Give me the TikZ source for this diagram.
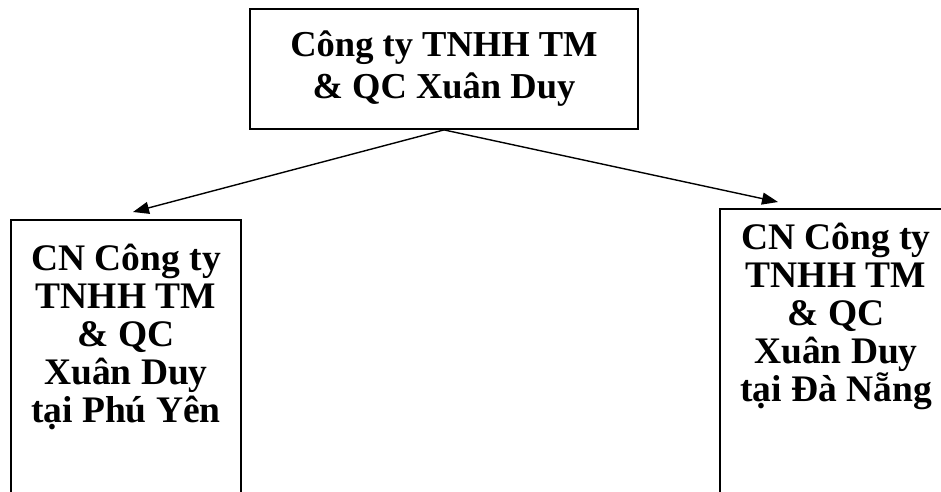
\documentclass[tikz,border=0pt]{standalone}
\usepackage{fontspec}
\setmainfont{Liberation Serif}
\usetikzlibrary{arrows.meta,positioning}
\tikzset{
  headbox/.style={draw=black,line width=1.8pt,minimum width=388pt,minimum height=120pt,align=center,inner sep=0pt,font=\fontsize{36.5}{42}\selectfont\bfseries},
  branchbox/.style={draw=black,line width=1.8pt,minimum width=230pt,align=center,inner xsep=0pt,inner ysep=24pt,text depth=150pt,anchor=north,font=\fontsize{37.5}{38}\selectfont\bfseries},
  arrow/.style={-{Triangle[length=16pt,width=12pt]},line width=1.4pt,draw=black}
}
\begin{document}
\begin{tikzpicture}[x=1pt,y=-1pt]
  \useasboundingbox (0,0) rectangle (941,491);
  \node[headbox] (head) at (444,69) {Công ty TNHH TM\\ \& QC Xuân Duy};
  \node[branchbox] (phuyen) at (126,219) {CN Công ty\\TNHH TM\\\& QC\\Xuân Duy\\tại Phú Yên};
  \node[branchbox,minimum width=232pt,inner ysep=14pt] (danang) at (836,208) {CN Công ty\\TNHH TM\\\& QC\\Xuân Duy\\tại Đà Nẵng};

  \draw[arrow] (head.south) -- ([shift={(7,-7)}]phuyen.north);
  \draw[arrow] (head.south) -- ([shift={(-58,-6)}]danang.north);
\end{tikzpicture}
\end{document}
